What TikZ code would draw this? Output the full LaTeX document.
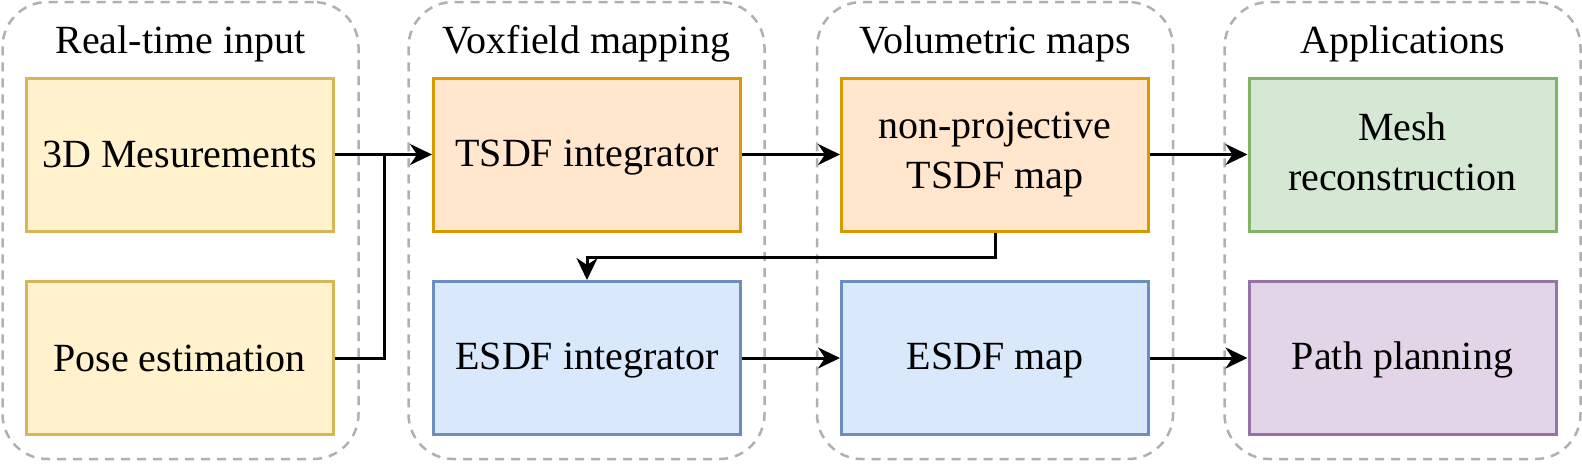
\documentclass[tikz,border=0pt]{standalone}
\usepackage{fontspec}
\setmainfont{Liberation Serif}
\usetikzlibrary{arrows.meta}
\definecolor{yfill}{HTML}{FFF2CC}\definecolor{ydraw}{HTML}{D6B656}
\definecolor{ofill}{HTML}{FFE6CC}\definecolor{odraw}{HTML}{D79B00}
\definecolor{bfill}{HTML}{DAE8FC}\definecolor{bdraw}{HTML}{6C8EBF}
\definecolor{gfill}{HTML}{D5E8D4}\definecolor{gdraw}{HTML}{82B366}
\definecolor{pfill}{HTML}{E1D5E7}\definecolor{pdraw}{HTML}{9673A6}
\definecolor{grpc}{HTML}{B0B0B0}
\begin{document}
\begin{tikzpicture}[x=1pt,y=-1pt,
  grp/.style={draw=grpc, line width=2.5pt, dash pattern=on 9pt off 7pt,
    rounded corners=45pt, minimum width=356pt, minimum height=457pt, inner sep=0pt},
  box/.style={line width=3pt, minimum width=307pt, minimum height=153pt,
    inner sep=0pt, align=center, font=\fontsize{40pt}{50pt}\selectfont,
    execute at begin node={\rule{0pt}{32pt}},
    execute at end node={\rule[-6pt]{0pt}{6pt}}},
  ybox/.style={box, fill=yfill, draw=ydraw},
  obox/.style={box, fill=ofill, draw=odraw},
  bbox/.style={box, fill=bfill, draw=bdraw},
  gbox/.style={box, fill=gfill, draw=gdraw},
  pbox/.style={box, fill=pfill, draw=pdraw},
  ttl/.style={anchor=base, inner sep=0pt, font=\fontsize{40pt}{50pt}\selectfont},
  conn/.style={line width=3pt},
  arr/.style={conn, -{Stealth[length=22pt,width=21pt,inset=7pt]}},
]
\useasboundingbox (0,0) rectangle (1582,464);
% groups
\node[grp] (g1) at (180.5,230.5) {};
\node[grp] (g2) at (586.5,230.5) {};
\node[grp] (g3) at (995,230.5) {};
\node[grp] (g4) at (1402.5,230.5) {};
% titles
\node[ttl] (t1) at (180.5,53) {Real-time input};
\node[ttl] (t2) at (586.5,53) {Voxfield mapping};
\node[ttl] (t3) at (995,53) {Volumetric maps};
\node[ttl] (t4) at (1402.5,53) {Applications};
% boxes
\node[ybox] (m3d) at (179.5,154.5) {3D Mesurements};
\node[ybox] (pose) at (179.5,358) {Pose estimation};
\node[obox] (tsdfi) at (587,154.5) {TSDF integrator};
\node[bbox] (esdfi) at (587,358) {ESDF integrator};
\node[obox] (ntsdf) at (995,154.5) {non-projective\\TSDF map};
\node[bbox] (esdfm) at (995,358) {ESDF map};
\node[gbox] (mesh) at (1402.5,154.5) {Mesh\\reconstruction};
\node[pbox] (path) at (1402.5,358) {Path planning};
% connectors
\coordinate (j) at (384,154.5);
\draw[arr] (m3d) -- (tsdfi);
\draw[conn] (pose.east) -| (j);
\draw[arr] (tsdfi) -- (ntsdf);
\draw[arr] (ntsdf) -- (mesh);
\draw[arr] (esdfi) -- (esdfm);
\draw[arr] (esdfm) -- (path);
\draw[arr] (ntsdf.south) -- ++(0,25) -| (esdfi.north);
\end{tikzpicture}
\end{document}
